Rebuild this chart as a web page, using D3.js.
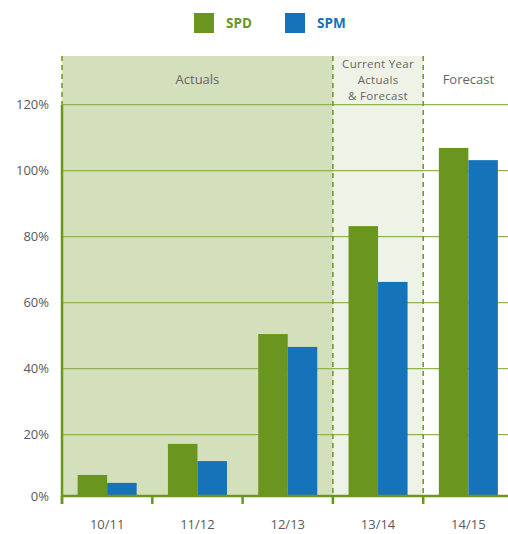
<!DOCTYPE html>
<html>
<head>
<meta charset="utf-8">
<script src="https://cdn.jsdelivr.net/npm/d3@7"></script>
<style>
  body { margin: 0; background: #fff; }
  svg { display: block; font-family: "Open Sans", "Noto Sans", sans-serif; }
  .tick-label { fill: #5a5a5a; font-size: 13px; }
  .region-label { fill: #666; font-size: 13px; }
</style>
</head>
<body>
<svg id="chart" width="508" height="534"></svg>
<script>
var categories = ['10/11', '11/12', '12/13', '13/14', '14/15'];
var seriesNames = ['SPD', 'SPM'];
var spdValues = [7.8, 17.2, 50.5, 83.2, 106.9];
var spmValues = [5.4, 12.0, 46.6, 66.3, 103.2];
var yTicks = [0, 20, 40, 60, 80, 100, 120];
var regions = [
  { label: ['Actuals'], from: 0, to: 3, fill: '#d4dfbc' },
  { label: ['Current Year', 'Actuals', '& Forecast'], from: 3, to: 4, fill: '#eff2e6' },
  { label: ['Forecast'], from: 4, to: 5, fill: 'none' }
];

var colors = { SPD: '#6a961f', SPM: '#1673b9' };
var green = '#6a961f';
var gridGreen = '#8fb553';

var svg = d3.select('#chart');
var plotLeft = 62, plotRight = 513.5, plotTop = 56, baseY = 496;

var x0 = d3.scaleBand().domain(categories).range([plotLeft, plotRight]).padding(0);
var x1 = d3.scaleBand().domain(seriesNames).range([0, x0.bandwidth()]).paddingInner(0).paddingOuter(0.53);
var y = d3.scaleLinear().domain([0, 120]).range([500.7, 104.7]);

// background regions + their labels
regions.forEach(function (r) {
  var rx = plotLeft + r.from * x0.step();
  var rw = (r.to - r.from) * x0.step();
  if (r.fill !== 'none') {
    svg.append('rect')
      .attr('x', rx).attr('y', plotTop)
      .attr('width', rw).attr('height', baseY - plotTop)
      .attr('fill', r.fill);
  }
  var multi = r.label.length > 1;
  var lh = 15.8;
  var cy = 80 - (r.label.length - 1) * lh / 2;
  var t = svg.append('text')
    .attr('class', 'region-label')
    .attr('text-anchor', 'middle')
    .style('font-size', multi ? '11.5px' : '13px')
    .style('letter-spacing', multi ? '0.3px' : null);
  r.label.forEach(function (l, i) {
    t.append('tspan')
      .attr('x', rx + rw / 2)
      .attr('y', cy + i * lh + 4.2)
      .text(l);
  });
});

// gridlines
svg.append('g')
  .selectAll('line')
  .data(yTicks.filter(function (d) { return d > 0; }))
  .join('line')
  .attr('x1', plotLeft).attr('x2', 508)
  .attr('y1', function (d) { return y(d); })
  .attr('y2', function (d) { return y(d); })
  .attr('stroke', gridGreen)
  .attr('stroke-width', 1.3);

// bars
var data = categories.map(function (c, i) {
  return { cat: c, values: [{ key: 'SPD', v: spdValues[i] }, { key: 'SPM', v: spmValues[i] }] };
});

svg.append('g')
  .selectAll('g')
  .data(data)
  .join('g')
  .attr('transform', function (d) { return 'translate(' + x0(d.cat) + ',0)'; })
  .selectAll('rect')
  .data(function (d) { return d.values; })
  .join('rect')
  .attr('x', function (d) { return x1(d.key); })
  .attr('width', x1.bandwidth())
  .attr('y', function (d) { return y(d.v); })
  .attr('height', function (d) { return baseY - y(d.v); })
  .attr('fill', function (d) { return colors[d.key]; });

// dashed region separators
[0, 3, 4].forEach(function (i) {
  var xx = plotLeft + i * x0.step();
  svg.append('line')
    .attr('x1', xx).attr('x2', xx)
    .attr('y1', plotTop).attr('y2', i === 0 ? y(120) : 504)
    .attr('stroke', green)
    .attr('stroke-width', 1.5)
    .attr('stroke-dasharray', '5,4');
});

// left axis line
svg.append('line')
  .attr('x1', plotLeft).attr('x2', plotLeft)
  .attr('y1', y(120)).attr('y2', 504)
  .attr('stroke', green).attr('stroke-width', 2.5);

// baseline
svg.append('line')
  .attr('x1', plotLeft).attr('x2', 508)
  .attr('y1', baseY).attr('y2', baseY)
  .attr('stroke', green).attr('stroke-width', 2.5);

// tick marks at band boundaries
svg.append('g')
  .selectAll('line')
  .data(d3.range(0, categories.length))
  .join('line')
  .attr('x1', function (i) { return plotLeft + i * x0.step(); })
  .attr('x2', function (i) { return plotLeft + i * x0.step(); })
  .attr('y1', baseY).attr('y2', 504)
  .attr('stroke', green).attr('stroke-width', 2.5);

// y labels
svg.append('g')
  .selectAll('text')
  .data(yTicks)
  .join('text')
  .attr('class', 'tick-label')
  .attr('text-anchor', 'end')
  .attr('x', 49)
  .attr('y', function (d) { return (d === 0 ? baseY : y(d)) + 4.5; })
  .text(function (d) { return d + '%'; });

// x labels
svg.append('g')
  .selectAll('text')
  .data(categories)
  .join('text')
  .attr('class', 'tick-label')
  .attr('text-anchor', 'middle')
  .attr('x', function (d) { return x0(d) + x0.bandwidth() / 2; })
  .attr('y', 529)
  .text(function (d) { return d; });

// legend
var legend = svg.append('g');
var legendX = [194, 285];
seriesNames.forEach(function (s, i) {
  legend.append('rect')
    .attr('x', legendX[i]).attr('y', 13)
    .attr('width', 20).attr('height', 20)
    .attr('fill', colors[s]);
  legend.append('text')
    .attr('x', legendX[i] + 32).attr('y', 28)
    .attr('fill', colors[s])
    .attr('font-size', 13.5)
    .attr('font-weight', 'bold')
    .text(s);
});
</script>
</body>
</html>
